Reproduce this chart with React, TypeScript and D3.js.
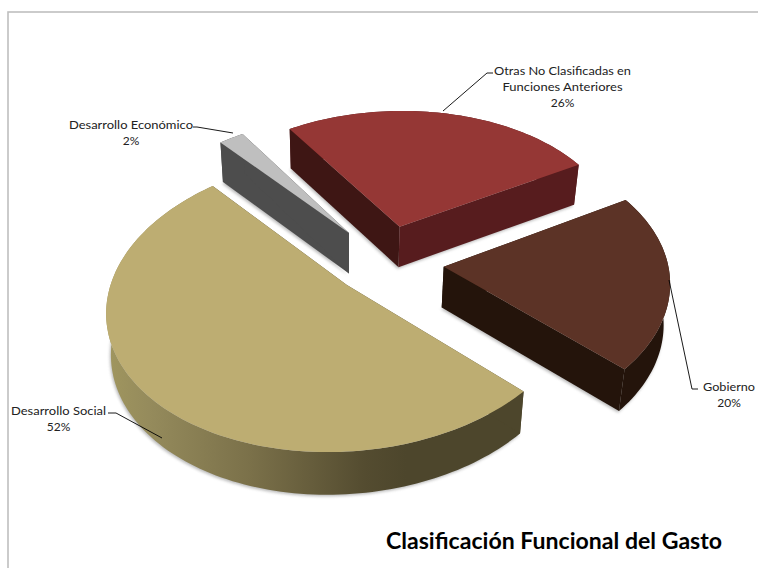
import React from "react";
import * as d3 from "d3";

// ---- data ----
const categories = ["Desarrollo Social", "Desarrollo Económico", "Otras No Clasificadas en Funciones Anteriores", "Gobierno"];
const shares = [51.5, 2, 26.1, 20.4];
const topColors = ["#BDAD72", "#BFBFBF", "#953735", "#5C3326"];
const wallColors = ["#4D462C", "#4D4D4D", "#571C1E", "#24140B"];
const sideColors = ["#4D462C", "#4D4D4D", "#3E1614", "#24140B"];
const explodeX = [0.008, 0.018, 0.247, 0.431];
const explodeY = [0, 0.375, 0.41, 0.102];
const labelLines = [["Desarrollo Social", "52%"], ["Desarrollo Económico", "2%"], ["Otras No Clasificadas en", "Funciones Anteriores", "26%"], ["Gobierno", "20%"]];
const labelAnchorX = [58.5, 131, 562.5, 729];
const labelTopY = [415, 129, 75, 391];
const lineWidths = [[95], [124], [137, 120], [52]];
const leaders = [
  [[162, 438], [116, 413], [108, 413]],
  [[233, 133], [197, 127], [193, 127]],
  [[443, 111], [487, 73], [493, 73]],
  [[669, 280], [692, 389], [698, 389]],
];
const titleText = "Clasificación Funcional del Gasto";

// ---- projection of a tilted disc ----
const CX = 345, CY = 285, S = 234, A = 145, K = 9, Q = 0.13, QX = 0.02;
const project = (x: number, y: number): [number, number] => {
  const w = 1 + Q * y + QX * x;
  return [CX + (S * x) / w, CY - (A * y + K * x) / w];
};
const drop = ([x, y]: [number, number]): [number, number] => [CX + 0.98 * (x - CX), CY + 41 + 1.01 * (y - CY)];

const pieGen = d3.pie<number>().sort(null).startAngle((136 * Math.PI) / 180).endAngle((496 * Math.PI) / 180);
const arcs = pieGen(shares);
const line = d3.line<[number, number]>();
const closed = (p: [number, number][]) => line(p) + "Z";

interface Slice { top: [number, number][]; bottom: [number, number][]; rim: [number, number][]; }
const slices: Slice[] = arcs.map((a, i) => {
  const steps = Math.max(6, Math.ceil((a.endAngle - a.startAngle) * 40));
  const ox = explodeX[i], oy = explodeY[i];
  const rim = d3.range(steps + 1).map((k) => {
    const t = a.startAngle + ((a.endAngle - a.startAngle) * k) / steps; // clockwise from north
    return project(ox + Math.sin(t), oy + Math.cos(t));
  });
  const apex = project(ox, oy);
  const top = [apex, ...rim];
  return { top, bottom: top.map(drop), rim };
});

const quad = (a: [number, number], b: [number, number]) => closed([a, b, drop(b), drop(a)]);

export default function App() {
  const gradStops = [
    [0, "#A0965F"],
    [0.1, "#958B5C"],
    [0.35, "#7A7049"],
    [0.62, "#544C30"],
    [0.72, "#4D462C"],
    [1, "#4D462C"],
  ];
  return (
    <svg width={758} height={568} viewBox="0 0 758 568" style={{ position: "fixed", left: 0, top: 0, display: "block", background: "#fff" }}
      fontFamily="Lato, 'Open Sans', sans-serif">
      <defs>
        <filter id="soft" x="-10%" y="-10%" width="120%" height="120%"><feGaussianBlur stdDeviation="1.4" /></filter>
        <linearGradient id="socialWall" gradientUnits="userSpaceOnUse" x1={107} x2={522} y1={0} y2={0}>
          {gradStops.map(([o, c]) => <stop key={String(o)} offset={o as number} stopColor={c as string} />)}
        </linearGradient>
      </defs>
      <rect x={8} y={12} width={770} height={580} fill="#fff" stroke="#BFBFBF" strokeWidth={1.6} />
      {slices.map((s, i) => (
        <path key={"sh" + i} d={closed(s.bottom)} transform="translate(-1,1.5)" fill="#8a8a8a" opacity={0.6} filter="url(#soft)" />
      ))}
      {[1, 2, 3, 0].map((i) => {
        const s = slices[i];
        const wall = i === 0 ? "url(#socialWall)" : wallColors[i];
        return (
          <g key={i}>
            {/* outer rim */}
            <path d={closed([...s.rim, ...s.rim.map(drop).reverse()])} fill={wall} />
            {/* radial walls */}
            <path d={quad(s.top[0], s.rim[0])} fill={sideColors[i]} />
            <path d={quad(s.top[0], s.rim[s.rim.length - 1])} fill={i === 2 ? wallColors[i] : sideColors[i]} />
            <path d={closed(s.top)} fill={topColors[i]} />
          </g>
        );
      })}
      {leaders.map((l, i) => (
        <path key={"l" + i} d={line(l as [number, number][]) as string} fill="none" stroke="#000" strokeWidth={0.9} />
      ))}
      {categories.map((c, i) => (
        <text key={c} textAnchor="middle" fontSize={12} fill="#222">
          {labelLines[i].map((t, k) => (
            <tspan key={k} x={labelAnchorX[i]} y={labelTopY[i] + k * 16} textLength={lineWidths[i][k]} lengthAdjust="spacingAndGlyphs">{t}</tspan>
          ))}
        </text>
      ))}
      <text x={386} y={549} fontSize={22} fontWeight={700} fill="#000" textLength={336} lengthAdjust="spacingAndGlyphs">{titleText}</text>
    </svg>
  );
}
